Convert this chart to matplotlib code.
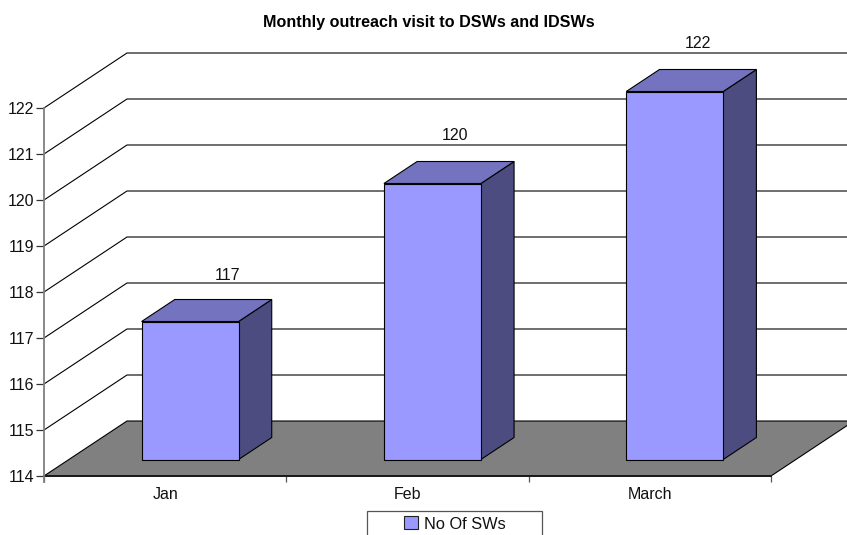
import matplotlib
matplotlib.use("Agg")
import matplotlib.pyplot as plt
from matplotlib.patches import Polygon, Rectangle

categories = ["Jan", "Feb", "March"]
values = [117, 120, 122]
y_ticks = [114, 115, 116, 117, 118, 119, 120, 121, 122]
series_name = "No Of SWs"
title = "Monthly outreach visit to DSWs and IDSWs"
label_dx = [21, 6, 7]
label_dy = [24, 26, 26]

W, H = 847, 535
plt.rcParams["font.family"] = ["Liberation Sans", "DejaVu Sans"]
fig = plt.figure(figsize=(W / 100, H / 100), dpi=100, facecolor="white")
L, R, T, B = 44, 771, 108, 476
ax = fig.add_axes([L / W, 1 - B / H, (R - L) / W, (B - T) / H])
ax.set_xlim(0, len(categories))
ax.set_ylim(y_ticks[0], y_ticks[-1])
ax.patch.set_visible(False)

px_x = (R - L) / len(categories)
px_y = (B - T) / (y_ticks[-1] - y_ticks[0])
DX, DY = 83 / px_x, 55 / px_y     # full floor depth in data units


def at(x, y, d):
    """Oblique projection: depth d in 0..1."""
    return (x + DX * d, y + DY * d)


LW = 0.8
base = y_ticks[0]
n = len(categories)
far_right = n + DX

# walls
for t in y_ticks[1:]:
    ax.plot([0, DX, far_right], [t, t + DY, t + DY], color="black", lw=LW,
            clip_on=False, zorder=1, solid_joinstyle="miter")

# floor
ax.add_patch(Polygon([at(0, base, 0), at(n, base, 0), at(n, base, 1), at(0, base, 1)],
                     closed=True, fc="#808080", ec="black", lw=LW, clip_on=False, zorder=2))
ax.plot([0, n], [base, base], color="#1a1a1a", lw=1.4, clip_on=False, zorder=2.5)

# bars
BW, D0, D1 = 0.4, 0.3, 0.7
for i, v in enumerate(values):
    x0, x1 = i + 0.5 - BW / 2, i + 0.5 + BW / 2
    side = [at(x1, base, D0), at(x1, base, D1), at(x1, v, D1), at(x1, v, D0)]
    top = [at(x0, v, D0), at(x1, v, D0), at(x1, v, D1), at(x0, v, D1)]
    front = [at(x0, base, D0), at(x1, base, D0), at(x1, v, D0), at(x0, v, D0)]
    for pts, col in [(side, "#4C4C80"), (top, "#7373BF"), (front, "#9999FF")]:
        ax.add_patch(Polygon(pts, closed=True, fc=col, ec="black", lw=LW,
                             clip_on=False, zorder=3, joinstyle="miter"))
    ax.annotate(str(v), at(i + 0.5, v, 0.5), xytext=(label_dx[i] * 0.72, (label_dy[i] + 22 * 0.25 + 5.5) * 0.72),
                textcoords="offset points", ha="center", va="center", fontsize=11.5,
                color="#111111", annotation_clip=False)

# axes
for s in ["top", "right", "bottom"]:
    ax.spines[s].set_visible(False)
ax.spines["left"].set_color("#808080")
ax.spines["left"].set_linewidth(1.3)
ax.spines["left"].set_bounds(base - 6 / px_y, y_ticks[-1])
ax.spines["left"].set_zorder(5)
ax.set_yticks(y_ticks)
ax.set_yticklabels([str(t) for t in y_ticks])
ax.tick_params(axis="y", length=5.8, width=0.9, color="#333333", pad=1.2,
               labelsize=11.5, labelcolor="#111111")
ax.set_xticks(range(n + 1))
ax.set_xticklabels([""] * (n + 1))
ax.tick_params(axis="x", which="major", length=4.5, width=0.9, color="#555555")
ax.set_xticks([i + 0.5 for i in range(n)], minor=True)
ax.set_xticklabels(categories, minor=True)
ax.tick_params(axis="x", which="minor", length=0, pad=8, labelsize=11.5, labelcolor="#111111")

fig.text(429 / W, 1 - 22.5 / H, title, ha="center", va="center", fontsize=11.6,
         fontweight="bold", color="black")

# legend
fig.add_artist(Rectangle((366.5 / W, 1 - 545 / H), 175.5 / W, 34 / H, transform=fig.transFigure,
                         fc="white", ec="#555555", lw=0.9))
handle = Rectangle((0, 0), 1, 1, fc="#9999FF", ec="#222222", lw=0.8)
fig.legend([handle], [series_name], loc="center", bbox_to_anchor=(455 / W, 1 - 524 / H),
           frameon=False, fontsize=11.8, handlelength=0.85, handleheight=0.85, handletextpad=0.35,
           labelcolor="#111111", borderpad=0)

fig.savefig("out.png", dpi=100)
